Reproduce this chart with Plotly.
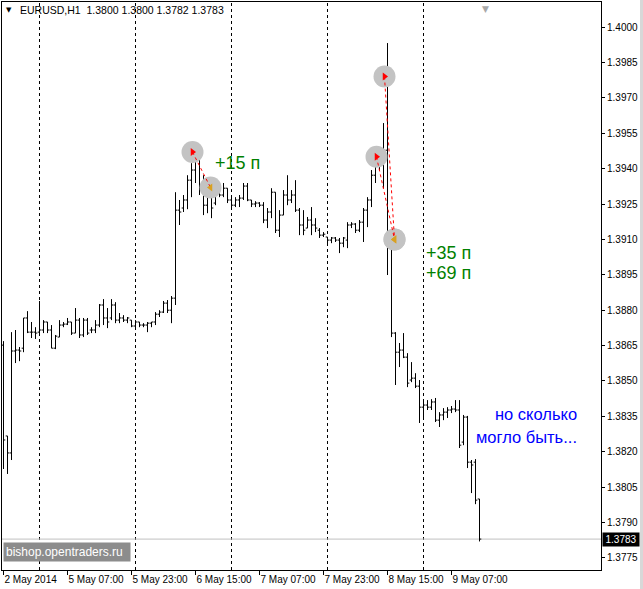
"""
EURUSD H1 — бары с отметками сделок (MT4-стиль)
"""

import pandas as pd
import plotly.graph_objects as go

# ── данные ─────────────────────────────────────────────
opens = [
    1.38652, 1.38267, 1.38195, 1.38627, 1.38631, 1.38639, 1.38767, 1.38707, 1.38707, 1.38707,
    1.38716, 1.38750, 1.38716, 1.38639, 1.38686, 1.38737, 1.38741, 1.38750, 1.38703, 1.38758,
    1.38695, 1.38758, 1.38716, 1.38716, 1.38737, 1.38822, 1.38767, 1.38767, 1.38822, 1.38758,
    1.38767, 1.38758, 1.38758, 1.38733, 1.38750, 1.38737, 1.38737, 1.38745, 1.38750, 1.38783,
    1.38792, 1.38830, 1.38800, 1.38851, 1.39224, 1.39233, 1.39267, 1.39351, 1.39394, 1.39436,
    1.39309, 1.39245, 1.39300, 1.39254, 1.39309, 1.39288, 1.39317, 1.39267, 1.39245, 1.39267,
    1.39275, 1.39326, 1.39267, 1.39250, 1.39254, 1.39245, 1.39182, 1.39216, 1.39300, 1.39139,
    1.39203, 1.39288, 1.39267, 1.39288, 1.39224, 1.39161, 1.39148, 1.39182, 1.39161, 1.39139,
    1.39118, 1.39110, 1.39097, 1.39106, 1.39097, 1.39084, 1.39097, 1.39161, 1.39165, 1.39139,
    1.39173, 1.39224, 1.39267, 1.39372, 1.39436, 1.39457, 1.39478, 1.39097, 1.38703, 1.38622,
    1.38631, 1.38601, 1.38504, 1.38512, 1.38478, 1.38389, 1.38398, 1.38389, 1.38411, 1.38334,
    1.38356, 1.38368, 1.38377, 1.38381, 1.38377, 1.38241, 1.38347, 1.38156, 1.38156, 1.38000,
]
highs = [
    1.38669, 1.38267, 1.38707, 1.38716, 1.38644, 1.38767, 1.38796, 1.38750, 1.38728, 1.38839,
    1.38758, 1.38750, 1.38737, 1.38695, 1.38758, 1.38750, 1.38767, 1.38750, 1.38809, 1.38767,
    1.38767, 1.38767, 1.38728, 1.38758, 1.38826, 1.38847, 1.38809, 1.38847, 1.38834, 1.38788,
    1.38779, 1.38771, 1.38758, 1.38758, 1.38750, 1.38745, 1.38750, 1.38750, 1.38792, 1.38800,
    1.38839, 1.38843, 1.38860, 1.39300, 1.39267, 1.39288, 1.39372, 1.39423, 1.39500, 1.39449,
    1.39372, 1.39339, 1.39309, 1.39330, 1.39322, 1.39339, 1.39317, 1.39288, 1.39279, 1.39288,
    1.39339, 1.39339, 1.39267, 1.39262, 1.39258, 1.39258, 1.39233, 1.39317, 1.39300, 1.39224,
    1.39309, 1.39372, 1.39309, 1.39351, 1.39233, 1.39224, 1.39195, 1.39237, 1.39190, 1.39148,
    1.39131, 1.39110, 1.39110, 1.39110, 1.39106, 1.39110, 1.39173, 1.39173, 1.39169, 1.39182,
    1.39233, 1.39279, 1.39394, 1.39470, 1.39487, 1.39593, 1.39932, 1.39106, 1.38707, 1.38661,
    1.38703, 1.38618, 1.38580, 1.38533, 1.38504, 1.38419, 1.38419, 1.38423, 1.38428, 1.38368,
    1.38385, 1.38389, 1.38394, 1.38419, 1.38419, 1.38356, 1.38352, 1.38165, 1.38169, 1.38000,
]
lows = [
    1.38127, 1.38106, 1.38165, 1.38576, 1.38584, 1.38622, 1.38703, 1.38682, 1.38678, 1.38695,
    1.38703, 1.38703, 1.38639, 1.38635, 1.38686, 1.38728, 1.38737, 1.38695, 1.38703, 1.38682,
    1.38686, 1.38695, 1.38703, 1.38703, 1.38728, 1.38737, 1.38724, 1.38758, 1.38745, 1.38745,
    1.38750, 1.38745, 1.38728, 1.38724, 1.38728, 1.38728, 1.38707, 1.38728, 1.38737, 1.38771,
    1.38788, 1.38788, 1.38745, 1.38822, 1.39161, 1.39216, 1.39228, 1.39279, 1.39339, 1.39288,
    1.39203, 1.39211, 1.39190, 1.39245, 1.39279, 1.39279, 1.39254, 1.39233, 1.39237, 1.39237,
    1.39267, 1.39262, 1.39237, 1.39237, 1.39237, 1.39169, 1.39148, 1.39190, 1.39127, 1.39110,
    1.39203, 1.39245, 1.39254, 1.39216, 1.39118, 1.39118, 1.39148, 1.39118, 1.39131, 1.39106,
    1.39110, 1.39084, 1.39084, 1.39089, 1.39042, 1.39067, 1.39063, 1.39148, 1.39127, 1.39131,
    1.39089, 1.39152, 1.39237, 1.39339, 1.39394, 1.39317, 1.38949, 1.38686, 1.38483, 1.38559,
    1.38597, 1.38474, 1.38495, 1.38470, 1.38322, 1.38343, 1.38377, 1.38377, 1.38326, 1.38305,
    1.38334, 1.38343, 1.38364, 1.38368, 1.38216, 1.38228, 1.38131, 1.38025, 1.37978, 1.37820,
]
closes = [
    1.38250, 1.38195, 1.38627, 1.38631, 1.38627, 1.38767, 1.38707, 1.38707, 1.38703, 1.38716,
    1.38750, 1.38716, 1.38639, 1.38690, 1.38737, 1.38741, 1.38750, 1.38703, 1.38758, 1.38695,
    1.38758, 1.38703, 1.38716, 1.38737, 1.38822, 1.38767, 1.38750, 1.38822, 1.38758, 1.38767,
    1.38758, 1.38767, 1.38733, 1.38750, 1.38737, 1.38737, 1.38745, 1.38750, 1.38783, 1.38792,
    1.38830, 1.38800, 1.38851, 1.39224, 1.39216, 1.39267, 1.39351, 1.39394, 1.39436, 1.39309,
    1.39245, 1.39309, 1.39233, 1.39309, 1.39288, 1.39317, 1.39267, 1.39245, 1.39267, 1.39275,
    1.39326, 1.39267, 1.39250, 1.39254, 1.39245, 1.39182, 1.39216, 1.39300, 1.39139, 1.39203,
    1.39288, 1.39267, 1.39288, 1.39224, 1.39161, 1.39139, 1.39182, 1.39161, 1.39148, 1.39118,
    1.39122, 1.39097, 1.39106, 1.39097, 1.39084, 1.39106, 1.39161, 1.39165, 1.39139, 1.39173,
    1.39224, 1.39267, 1.39372, 1.39436, 1.39457, 1.39478, 1.39097, 1.38703, 1.38622, 1.38631,
    1.38601, 1.38491, 1.38512, 1.38478, 1.38389, 1.38398, 1.38389, 1.38411, 1.38334, 1.38356,
    1.38368, 1.38377, 1.38381, 1.38377, 1.38228, 1.38347, 1.38156, 1.38144, 1.37995, 1.37830,
]

# сделки (sell): бар открытия / цена, бар закрытия / цена
trade_open_bar = [48, 94, 96]
trade_open_price = [1.3947, 1.3945, 1.3979]
trade_close_bar = [51, 97, 97]
trade_close_price = [1.3932, 1.3910, 1.3910]
trade_labels = ["+15 п", "+35 п", "+69 п"]

price_ticks = [1.3775, 1.3790, 1.3805, 1.3820, 1.3835, 1.3850, 1.3865, 1.3880,
               1.3895, 1.3910, 1.3925, 1.3940, 1.3955, 1.3970, 1.3985, 1.4000]
last_price = 1.3783

# часы торгов без выходных
times = pd.date_range("2014-05-02 15:00", periods=200, freq="h")
times = times[times.dayofweek < 5][:len(opens)]
bars = list(range(len(opens)))

label_idx = bars[::16]
label_txt = [times[0].strftime("%-d %b %Y")] + [times[i].strftime("%-d %b %H:%M") for i in label_idx[1:]]
day_sep = [i for i in bars if times[i].hour == 0]

FONT = "Liberation Sans"

# ── рисунок ──────────────────────────────────────────
fig = go.Figure()

# серые кружки под отметками
fig.add_trace(go.Scatter(
    x=[b - 0.75 for b in trade_open_bar] + [b + 0.75 for b in trade_close_bar],
    y=trade_open_price + trade_close_price,
    mode="markers",
    marker=dict(size=22, color="#c3c3c3"),
    hoverinfo="skip",
))

fig.add_trace(go.Ohlc(
    x=bars, open=opens, high=highs, low=lows, close=closes,
    increasing=dict(line=dict(color="black", width=1)),
    decreasing=dict(line=dict(color="black", width=1)),
    tickwidth=0.45,
    hoverinfo="skip",
))

# красные пунктиры от открытия к закрытию
for ob, op, cb, cp in zip(trade_open_bar, trade_open_price, trade_close_bar, trade_close_price):
    fig.add_trace(go.Scatter(
        x=[ob - 0.75, cb + 0.75], y=[op, cp],
        mode="lines", line=dict(color="red", width=1, dash="dot"),
        hoverinfo="skip",
    ))

fig.add_trace(go.Scatter(
    x=[b - 0.75 for b in trade_open_bar], y=trade_open_price,
    mode="markers", marker=dict(symbol="triangle-right", size=7, color="red"),
    hoverinfo="skip",
))
fig.add_trace(go.Scatter(
    x=[b + 0.75 for b in trade_close_bar], y=trade_close_price,
    mode="markers", marker=dict(symbol="triangle-left", size=7, color="#d9a020"),
    hoverinfo="skip",
))

# разделители дней
for i in day_sep:
    fig.add_shape(type="line", x0=i, x1=i, y0=0, y1=1, yref="paper",
                  line=dict(color="black", width=1, dash="3px,3px"), layer="below")

# линия текущей цены
fig.add_shape(type="line", x0=0, x1=1, xref="paper", y0=last_price, y1=last_price,
              line=dict(color="#c0c0c0", width=1), layer="below")

# серая кромка окна справа
fig.add_shape(type="rect", xref="paper", yref="paper", x0=1.0651, x1=1.08, y0=-0.04, y1=1.01,
              line=dict(width=0), fillcolor="#d8d8d8")

# подписи сделок
fig.add_annotation(x=52.25, y=1.39423, text=trade_labels[0], showarrow=False,
                   xanchor="left", yanchor="middle", font=dict(family=FONT, size=18, color="#008000"))
fig.add_annotation(x=105, y=1.39042, text=trade_labels[1], showarrow=False,
                   xanchor="left", yanchor="middle", font=dict(family=FONT, size=18, color="#008000"))
fig.add_annotation(x=105, y=1.38957, text=trade_labels[2], showarrow=False,
                   xanchor="left", yanchor="middle", font=dict(family=FONT, size=18, color="#008000"))

fig.add_annotation(x=143.75, y=1.38360, text="но сколько", showarrow=False,
                   xanchor="right", yanchor="middle", font=dict(family=FONT, size=16.5, color="#0000ff"))
fig.add_annotation(x=143.75, y=1.38264, text="могло быть...", showarrow=False,
                   xanchor="right", yanchor="middle", font=dict(family=FONT, size=16.5, color="#0000ff"))

# заголовок окна
fig.add_annotation(xref="paper", yref="paper", x=0.0267, y=0.9855,
                   text="EURUSD,H1  1.3800 1.3800 1.3782 1.3783", showarrow=False,
                   xanchor="left", yanchor="middle", font=dict(family=FONT, size=10.5, color="black"))
fig.add_annotation(xref="paper", yref="paper", x=0.012, y=0.9855, text="▼", showarrow=False,
                   xanchor="center", yanchor="middle", font=dict(family="DejaVu Sans", size=7, color="black"))

# маркер сдвига графика
fig.add_annotation(x=len(opens) + 0.5, yref="paper", y=1.0, text="▼", showarrow=False,
                   xanchor="center", yanchor="top", font=dict(family="DejaVu Sans", size=9, color="#a8a8a8"))

# водяной знак
fig.add_annotation(xref="paper", yref="paper", x=0.0017, y=0.0317,
                   text="bishop.opentraders.ru", showarrow=False,
                   xanchor="left", yanchor="middle", align="left",
                   width=122, height=14, borderpad=2, bgcolor="#8c8c8c",
                   font=dict(family=FONT, size=12, color="white"))

# текущая цена на шкале
fig.add_annotation(xref="paper", x=1.002, y=last_price, text=f"{last_price:.4f}", showarrow=False,
                   xanchor="left", yanchor="middle", width=34, borderpad=1, bgcolor="black",
                   font=dict(family=FONT, size=10, color="white"))

fig.update_layout(
    width=643, height=589,
    margin=dict(l=2, r=42, t=2, b=19, autoexpand=False),
    paper_bgcolor="white", plot_bgcolor="white",
    showlegend=False, hovermode=False,
)
# сдвиг на полпикселя, чтобы вертикальные линии баров были чёткими
fig.update_xaxes(
    range=[-0.375, 149.375], showgrid=False, zeroline=False,
    showline=True, linecolor="black", linewidth=1, mirror=True,
    ticks="outside", ticklen=4, tickcolor="black", tickangle=0,
    tickvals=label_idx, ticktext=label_txt, ticklabelposition="outside right",
    tickfont=dict(family=FONT, size=10, color="black"),
    rangeslider=dict(visible=False),
)
fig.update_yaxes(
    side="right", range=[1.37699, 1.40106], showgrid=False, zeroline=False,
    showline=True, linecolor="black", linewidth=1, mirror=True,
    ticks="outside", ticklen=3, tickcolor="black",
    tickvals=price_ticks, ticktext=[f"{p:.4f}" for p in price_ticks],
    tickfont=dict(family=FONT, size=10, color="black"),
)

# убрать отступ body по умолчанию, чтобы рисунок начинался с (0, 0)
fig.write_html("out.html", config={"displayModeBar": False},
               post_script="document.body.style.margin='0';")
